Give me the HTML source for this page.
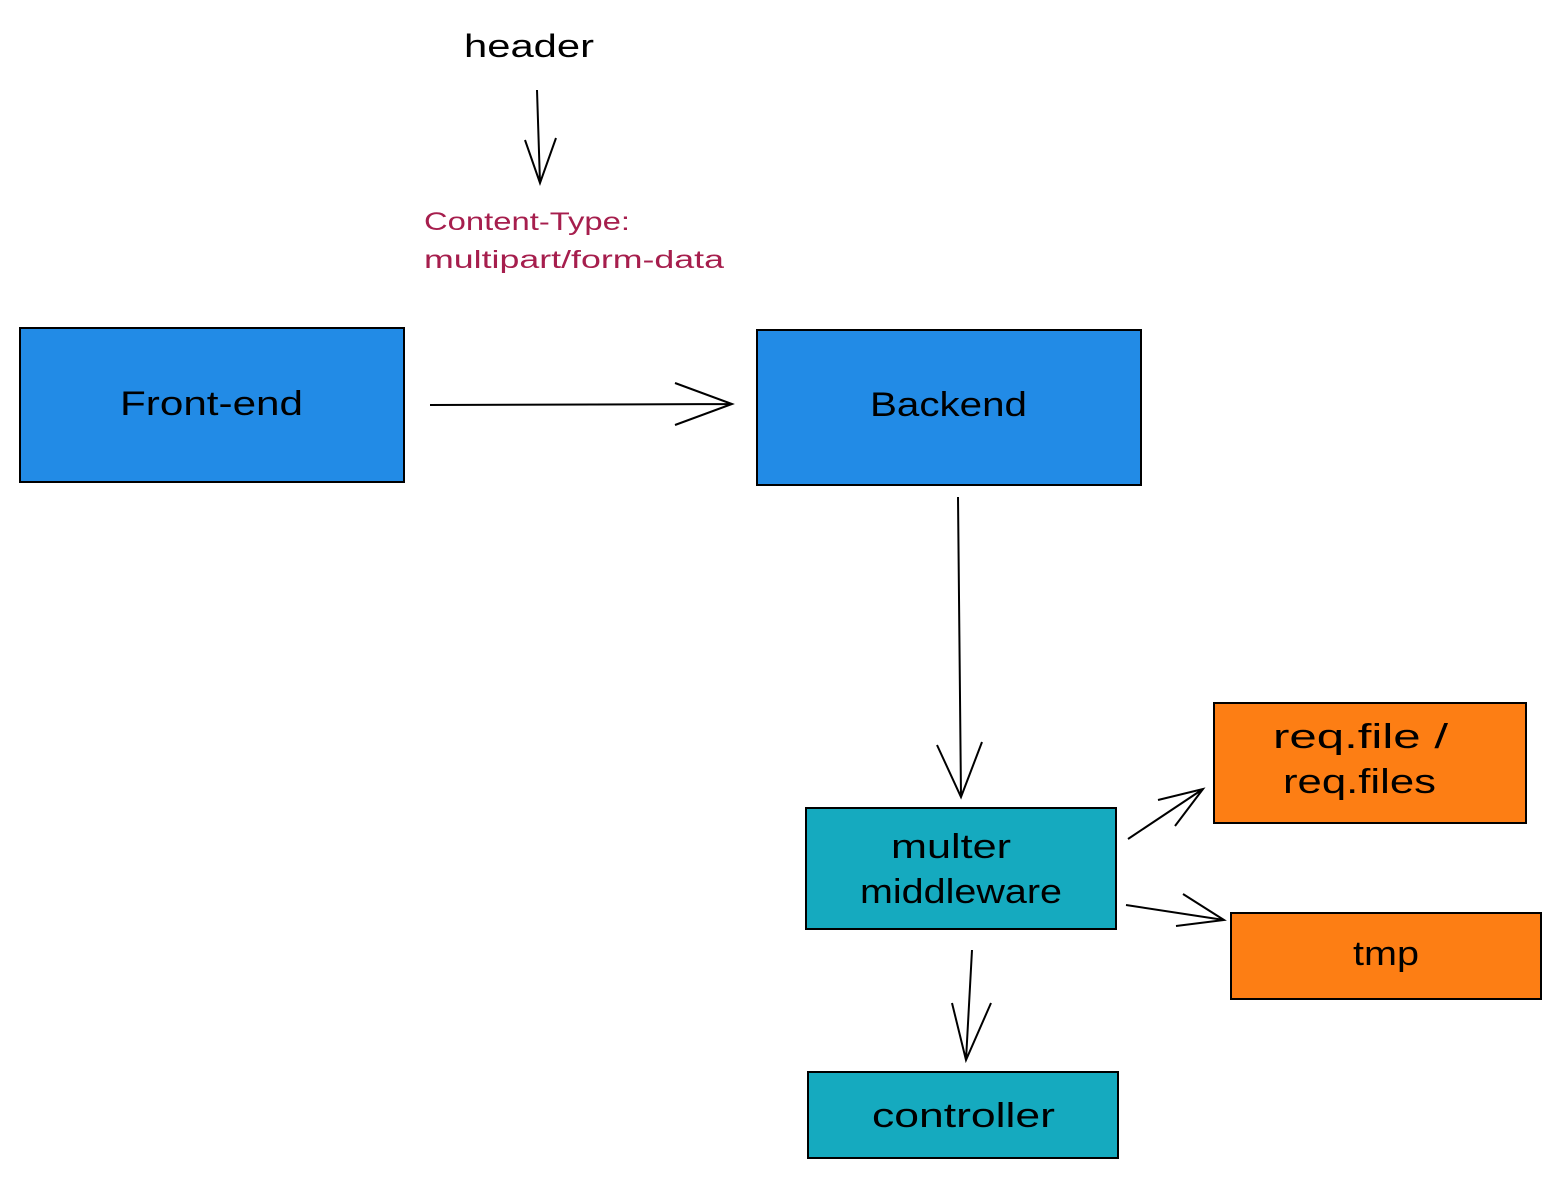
<!DOCTYPE html>
<html><head><meta charset="utf-8"><style>
html,body{margin:0;padding:0;background:#fff;}
svg{display:block}
text{font-family:"Liberation Sans",sans-serif;}
</style></head><body>
<svg width="1561" height="1178" viewBox="0 0 1561 1178" xmlns="http://www.w3.org/2000/svg">
<g stroke="#000" stroke-width="2" fill="none">
<rect x="20" y="328" width="384" height="154" fill="#228be6"/>
<rect x="757" y="330" width="384" height="155" fill="#228be6"/>
<rect x="806" y="808" width="310" height="121" fill="#15aabf"/>
<rect x="808" y="1072" width="310" height="86" fill="#15aabf"/>
<rect x="1214" y="703" width="312" height="120" fill="#fd7e14"/>
<rect x="1231" y="913" width="310" height="86" fill="#fd7e14"/>
<path d="M537 90 L540 183 M525 140 L540 183 L556 138"/>
<path d="M430 405 L732 404 M675 383 L732 404 L675 425"/>
<path d="M958 497 L961 797 M937 745 L961 797 L982 742"/>
<path d="M1128 839 L1203 789 M1158 800 L1203 789 L1175 826"/>
<path d="M1126 905 L1224 920 M1183 894 L1224 920 L1176 926"/>
<path d="M972 950 L966 1060 M952 1003 L966 1060 L991 1003"/>
</g>
<g font-size="34" fill="#000">
<text x="464" y="57" font-size="32" textLength="130" lengthAdjust="spacingAndGlyphs">header</text>
<text x="120" y="415" textLength="183" lengthAdjust="spacingAndGlyphs">Front-end</text>
<text x="870" y="416" textLength="157" lengthAdjust="spacingAndGlyphs">Backend</text>
<text x="891" y="858" textLength="120" lengthAdjust="spacingAndGlyphs">multer</text>
<text x="860" y="903" textLength="202" lengthAdjust="spacingAndGlyphs">middleware</text>
<text x="872" y="1127" textLength="183" lengthAdjust="spacingAndGlyphs">controller</text>
<text x="1273" y="748" textLength="175" lengthAdjust="spacingAndGlyphs">req.file /</text>
<text x="1283" y="793" textLength="153" lengthAdjust="spacingAndGlyphs">req.files</text>
<text x="1353" y="965" textLength="66" lengthAdjust="spacingAndGlyphs">tmp</text>
</g>
<g font-size="25" fill="#a61e4d">
<text x="424" y="230" textLength="206" lengthAdjust="spacingAndGlyphs">Content-Type:</text>
<text x="424" y="268" textLength="300" lengthAdjust="spacingAndGlyphs">multipart/form-data</text>
</g>
</svg>
</body></html>
